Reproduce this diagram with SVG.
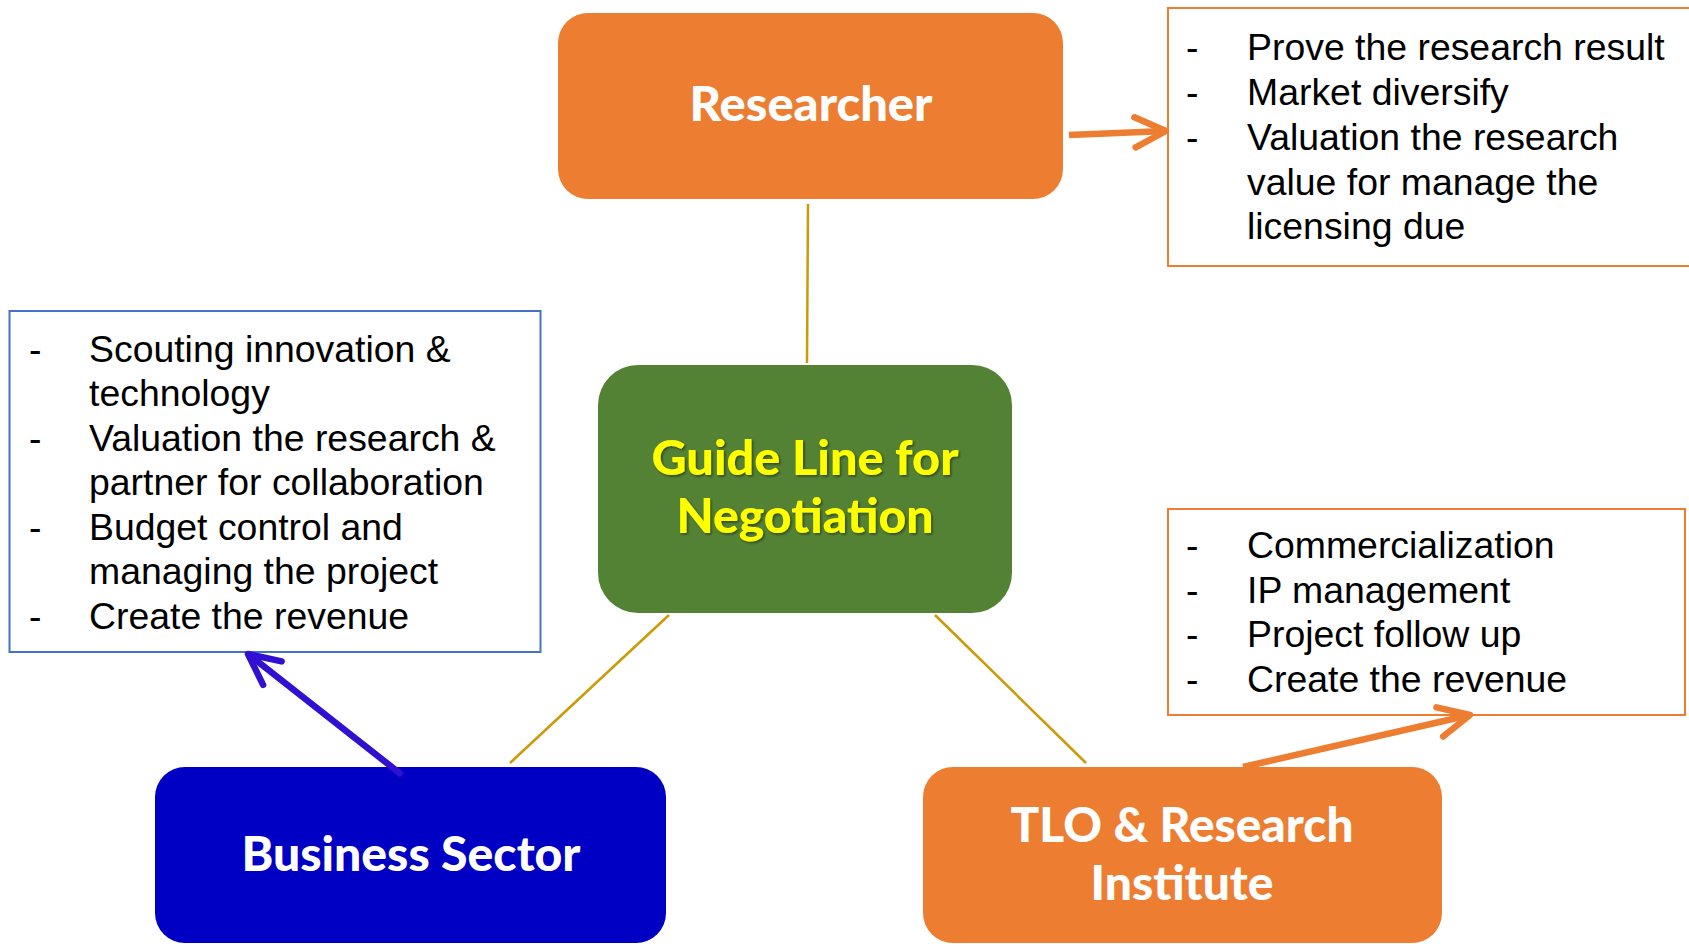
<svg xmlns="http://www.w3.org/2000/svg" width="1689" height="944" viewBox="0 0 1689 944">
<defs>
<style>
.title{font-family:Lato,"Open Sans","Noto Sans",sans-serif;font-weight:900;font-size:47px;fill:#FFFFFF;text-anchor:middle}
.guide{fill:#FFFF00}
.body{font-family:"Liberation Sans",Arial,sans-serif;font-size:37.4px;fill:#000000}
.conn{stroke:#CC9A06;stroke-width:2.5;fill:none}
.arrO{stroke:#ED7D31;stroke-width:6.5;fill:none;marker-end:url(#chevO)}
.arrB{stroke:#3210D2;stroke-width:6.5;fill:none;marker-end:url(#chevB)}
</style>
<marker id="chevO" markerUnits="userSpaceOnUse" viewBox="-40 -22 46 44" refX="0" refY="0" markerWidth="46" markerHeight="44" orient="auto">
<path d="M-31,-15 L0,0 L-31,15" fill="none" stroke="#ED7D31" stroke-width="6.5" stroke-linecap="round" stroke-linejoin="round"/>
</marker>
<marker id="chevB" markerUnits="userSpaceOnUse" viewBox="-40 -22 46 44" refX="0" refY="0" markerWidth="46" markerHeight="44" orient="auto">
<path d="M-31,-15 L0,0 L-31,15" fill="none" stroke="#3210D2" stroke-width="6.5" stroke-linecap="round" stroke-linejoin="round"/>
</marker>
<filter id="shadow" x="-10%" y="-20%" width="120%" height="140%">
<feDropShadow dx="1.5" dy="1.5" stdDeviation="1" flood-color="#000000" flood-opacity="0.45"/>
</filter>
</defs>
<rect width="1689" height="944" fill="#FFFFFF"/>

<g id="researcher">
<rect x="558" y="13" width="505" height="186" rx="30" fill="#ED7D31"/>
<text class="title" x="811" y="121" textLength="243" lengthAdjust="spacingAndGlyphs">Researcher</text>
</g>

<g id="researcher-notes">
<rect x="1168" y="8" width="540" height="258" fill="#FFFFFF" stroke="#ED7D31" stroke-width="2"/>
<text class="body" x="1186" y="60">-</text><text class="body" x="1247" y="60">Prove the research result</text>
<text class="body" x="1186" y="105">-</text><text class="body" x="1247" y="105">Market diversify</text>
<text class="body" x="1186" y="150">-</text><text class="body" x="1247" y="150">Valuation the research</text>
<text class="body" x="1247" y="195">value for manage the</text>
<text class="body" x="1247" y="239">licensing due</text>
</g>

<g id="guide">
<rect x="598" y="365" width="414" height="248" rx="40" fill="#548235"/>
<g filter="url(#shadow)">
<text class="title guide" x="805" y="475" textLength="307" lengthAdjust="spacingAndGlyphs">Guide Line for</text>
<text class="title guide" x="805" y="533" textLength="257" lengthAdjust="spacingAndGlyphs">Negotiation</text>
</g>
</g>

<g id="business-notes">
<rect x="9.5" y="311" width="531" height="341" fill="#FFFFFF" stroke="#4472C4" stroke-width="2"/>
<text class="body" x="29" y="362">-</text><text class="body" x="89" y="362">Scouting innovation &amp;</text>
<text class="body" x="89" y="406">technology</text>
<text class="body" x="29" y="451">-</text><text class="body" x="89" y="451">Valuation the research &amp;</text>
<text class="body" x="89" y="495">partner for collaboration</text>
<text class="body" x="29" y="540">-</text><text class="body" x="89" y="540">Budget control and</text>
<text class="body" x="89" y="584">managing the project</text>
<text class="body" x="29" y="629">-</text><text class="body" x="89" y="629">Create the revenue</text>
</g>

<g id="tlo-notes">
<rect x="1168" y="509" width="517" height="206" fill="#FFFFFF" stroke="#ED7D31" stroke-width="2"/>
<text class="body" x="1186" y="558">-</text><text class="body" x="1247" y="558">Commercialization</text>
<text class="body" x="1186" y="603">-</text><text class="body" x="1247" y="603">IP management</text>
<text class="body" x="1186" y="647">-</text><text class="body" x="1247" y="647">Project follow up</text>
<text class="body" x="1186" y="692">-</text><text class="body" x="1247" y="692">Create the revenue</text>
</g>

<g id="business">
<rect x="155" y="767" width="511" height="176" rx="30" fill="#0000C4"/>
<text class="title" x="411" y="871" textLength="339" lengthAdjust="spacingAndGlyphs">Business Sector</text>
</g>

<g id="tlo">
<rect x="923" y="767" width="519" height="176" rx="30" fill="#ED7D31"/>
<text class="title" x="1182" y="842" textLength="343" lengthAdjust="spacingAndGlyphs">TLO &amp; Research</text>
<text class="title" x="1182" y="900" textLength="183" lengthAdjust="spacingAndGlyphs">Institute</text>
</g>

<g id="connectors">
<line class="conn" x1="808" y1="204" x2="807" y2="363"/>
<line class="conn" x1="669" y1="615" x2="510" y2="763"/>
<line class="conn" x1="935" y1="615" x2="1086" y2="763"/>
<line class="arrO" x1="1069" y1="135" x2="1166" y2="131"/>
<line class="arrB" x1="402" y1="775" x2="248" y2="654"/>
<line class="arrO" x1="1243" y1="767" x2="1470" y2="715"/>
</g>
</svg>
